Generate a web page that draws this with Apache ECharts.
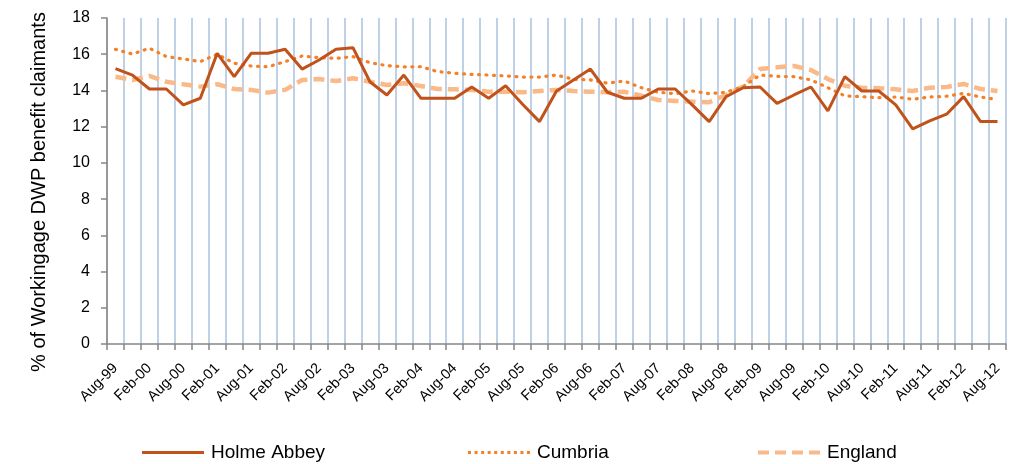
<!DOCTYPE html>
<html>
<head>
<meta charset="utf-8">
<script src="https://cdn.jsdelivr.net/npm/echarts@6/dist/echarts.min.js"></script>
<style>
  html, body { margin: 0; padding: 0; background: #fff; }
  #chart { width: 1009px; height: 464px; }
</style>
</head>
<body>
<div id="chart"></div>
<script>
// quarterly, Aug-99 .. Aug-12
const months = ['Aug', 'Nov', 'Feb', 'May'];
const categories = [];
for (let i = 0; i < 53; i++) {
  const yr = 1999 + Math.floor((i + 2) / 4);
  categories.push(months[i % 4] + '-' + String(yr % 100).padStart(2, '0'));
}

const holmeAbbey = [
  15.2, 14.85, 14.08, 14.08, 13.2, 13.57, 16.05, 14.76, 16.05, 16.05,
  16.27, 15.18, 15.68, 16.27, 16.36, 14.48, 13.75, 14.85, 13.57, 13.57,
  13.57, 14.19, 13.57, 14.26, 13.24, 12.28, 13.97, 14.58, 15.18, 13.9,
  13.57, 13.57, 14.08, 14.08, 13.2, 12.28, 13.66, 14.15, 14.19, 13.29,
  13.75, 14.19, 12.87, 14.76, 13.97, 13.97, 13.2, 11.88, 12.32, 12.69,
  13.66, 12.28, 12.28
];
const cumbria = [
  16.27, 16.01, 16.33, 15.87, 15.74, 15.59, 16.0, 15.5, 15.35, 15.31,
  15.59, 15.9, 15.81, 15.77, 15.87, 15.53, 15.37, 15.3, 15.31, 15.04,
  14.95, 14.89, 14.85, 14.8, 14.74, 14.74, 14.85, 14.62, 14.58, 14.4,
  14.52, 14.15, 13.9, 13.82, 13.97, 13.82, 13.9, 14.21, 14.85, 14.78,
  14.76, 14.58, 14.15, 13.7, 13.66, 13.6, 13.64, 13.51, 13.64, 13.68,
  13.84, 13.64, 13.49
];
const england = [
  14.76, 14.58, 14.8, 14.48, 14.34, 14.21, 14.34, 14.08, 14.03, 13.88,
  14.03, 14.58, 14.63, 14.52, 14.67, 14.48, 14.3, 14.4, 14.25, 14.08,
  14.06, 14.03, 13.93, 13.93, 13.9, 13.97, 14.03, 13.97, 13.93, 13.9,
  13.93, 13.71, 13.47, 13.42, 13.38, 13.35, 13.75, 14.21, 15.18, 15.28,
  15.35, 15.13, 14.63, 14.26, 14.15, 14.12, 14.06, 13.97, 14.15, 14.19,
  14.36, 14.08, 13.97
];

const font = 'Liberation Sans, Arial, sans-serif';
const colHolme = '#C0521A';
const colCumbria = '#F58025';
const colEngland = '#FAB989';

// legend swatches drawn as paths so they match the line styles
let dots = '';
for (let k = 0; k < 10; k++) {
  const x = (k * 6.55).toFixed(2);
  dots += 'M' + x + ',0 h3 v3 h-3 Z ';
}
let dashes = '';
for (let k = 0; k < 4; k++) {
  dashes += 'M' + (k * 17) + ',0 h11 v4 h-11 Z ';
}
const iconHolme = 'path://M0,0 h62 v3 h-62 Z';
const iconCumbria = 'path://' + dots;
const iconEngland = 'path://' + dashes;

const legendBase = {
  top: 438,
  itemWidth: 62,
  itemHeight: 10,
  itemGap: 0,
  selectedMode: false,
  textStyle: { fontSize: 19, color: '#000', fontFamily: font, padding: [0, 0, 0, 2] }
};

const chart = echarts.init(document.getElementById('chart'));

chart.setOption({
  animation: false,
  textStyle: { fontFamily: font },
  grid: { left: 107, right: 3, top: 18, bottom: 120 },
  legend: [
    Object.assign({}, legendBase, { left: 137, data: [{ name: 'Holme Abbey', icon: iconHolme }] }),
    Object.assign({}, legendBase, { left: 463, data: [{ name: 'Cumbria', icon: iconCumbria }] }),
    Object.assign({}, legendBase, { left: 753, data: [{ name: 'England', icon: iconEngland }] })
  ],
  xAxis: {
    type: 'category',
    data: categories,
    boundaryGap: true,
    axisLine: { lineStyle: { color: '#868686', width: 1.5 } },
    axisTick: { show: true, interval: 0, length: 6, lineStyle: { color: '#868686', width: 1.5 } },
    axisLabel: {
      interval: 1,
      rotate: 45,
      fontSize: 14.5,
      color: '#000',
      margin: 22,
      fontFamily: font
    },
    splitLine: { show: true, interval: 0, lineStyle: { color: '#BFD1E7', width: 2 } }
  },
  yAxis: {
    type: 'value',
    min: 0,
    max: 18,
    interval: 2,
    name: '% of Workingage DWP benefit claimants',
    nameLocation: 'middle',
    nameGap: 58,
    nameTextStyle: { fontSize: 20, color: '#000', fontFamily: font, padding: [0, 22, 0, 0] },
    axisLine: { show: true, lineStyle: { color: '#868686', width: 1.5 } },
    axisTick: { show: true, length: 6, lineStyle: { color: '#868686', width: 1.5 } },
    axisLabel: { fontSize: 16, color: '#000', margin: 17, fontFamily: font },
    splitLine: { show: false }
  },
  series: [
    {
      name: 'Holme Abbey',
      type: 'line',
      data: holmeAbbey,
      symbol: 'none',
      z: 3,
      lineStyle: { color: colHolme, width: 3 },
      itemStyle: { color: colHolme }
    },
    {
      name: 'Cumbria',
      type: 'line',
      data: cumbria,
      symbol: 'none',
      z: 2,
      lineStyle: { color: colCumbria, width: 3.2, type: [1, 6.5], cap: 'round' },
      itemStyle: { color: colCumbria }
    },
    {
      name: 'England',
      type: 'line',
      data: england,
      symbol: 'none',
      z: 1,
      lineStyle: { color: colEngland, width: 4.5, type: [11, 6] },
      itemStyle: { color: colEngland }
    }
  ]
});

window.addEventListener('resize', () => chart.resize());
</script>
</body>
</html>
